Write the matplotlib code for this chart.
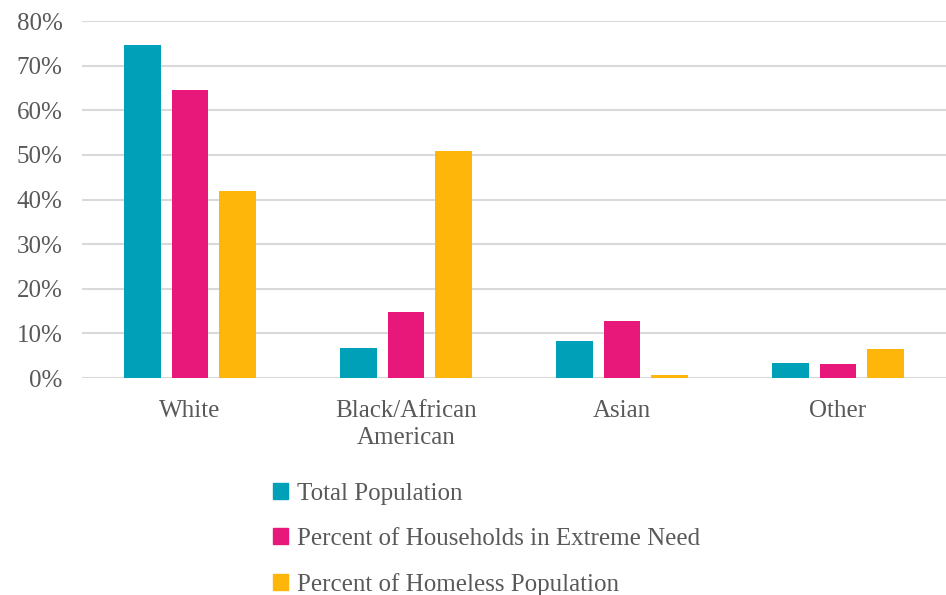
import matplotlib
matplotlib.use('Agg')
import matplotlib.pyplot as plt
import matplotlib.patches as mpatches
import numpy as np

categories = ['White', 'Black/African\nAmerican', 'Asian', 'Other']
series_names = ['Total Population',
                'Percent of Households in Extreme Need',
                'Percent of Homeless Population']
total_pop = [74.7, 6.7, 8.3, 3.4]
extreme_need = [64.6, 14.8, 12.8, 3.1]
homeless = [41.8, 50.9, 0.7, 6.5]
colors = ['#00A0B8', '#E8177A', '#FFB60B']
y_ticks = [0, 10, 20, 30, 40, 50, 60, 70, 80]

text_color = '#595959'
plt.rcParams['font.family'] = ['Liberation Serif', 'DejaVu Serif']

fig = plt.figure(figsize=(9.46, 5.95), dpi=100)
ax = fig.add_axes([0.0867, 0.3647, 0.9133, 0.6])

x = np.arange(len(categories))
width = 0.17
step = 0.221
for i, (vals, col) in enumerate(zip([total_pop, extreme_need, homeless], colors)):
    ax.bar(x + (i - 1) * step, vals, width, color=col, zorder=3)

ax.set_xlim(-0.5, len(categories) - 0.5)
ax.set_ylim(0, 80)
ax.set_yticks(y_ticks)
ax.set_yticklabels(['{}%'.format(v) for v in y_ticks])
ax.set_xticks(x)
ax.set_xticklabels(categories, linespacing=1.3)
ax.tick_params(axis='both', length=0, labelsize=18, colors=text_color)
ax.tick_params(axis='y', pad=14)
ax.tick_params(axis='x', pad=16)
ax.yaxis.grid(True, color='#d9d9d9', linewidth=1.5, zorder=0)
for s in ax.spines.values():
    s.set_visible(False)

handles = [mpatches.Patch(color=c, label=n) for c, n in zip(colors, series_names)]
leg = fig.legend(handles=handles, loc='upper left', bbox_to_anchor=(0.289, 0.188),
                 frameon=False, fontsize=18, labelcolor=text_color,
                 handlelength=0.6, handleheight=0.6, handletextpad=0.35,
                 labelspacing=0.92, borderaxespad=0, borderpad=0)

fig.savefig('out.png', dpi=100)
plt.close(fig)
